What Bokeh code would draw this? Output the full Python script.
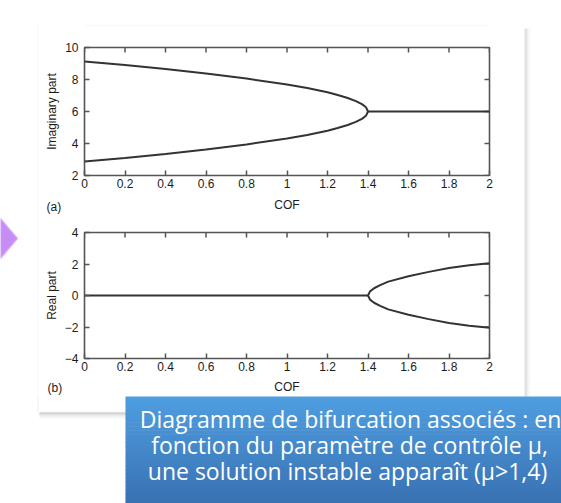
import math
from bokeh.plotting import figure
from bokeh.models import Range1d, FixedTicker, Label
from bokeh.core.properties import value
from bokeh.layouts import column, row
from bokeh.embed import file_html
from bokeh.resources import INLINE

# ---------------- data ----------------
cof_ticks = [0, 0.2, 0.4, 0.6, 0.8, 1.0, 1.2, 1.4, 1.6, 1.8, 2.0]
cof_tick_labels = ["0", "0.2", "0.4", "0.6", "0.8", "1", "1.2", "1.4", "1.6", "1.8", "2"]
imag_ticks = [2, 4, 6, 8, 10]
imag_tick_labels = ["2", "4", "6", "8", "10"]
real_ticks = [-4, -2, 0, 2, 4]
real_tick_labels = ["\u22124", "\u22122", "0", "2", "4"]

# (a) imaginary part
cof_split = [0.0, 0.2, 0.4, 0.6, 0.8, 1.0, 1.1, 1.2, 1.25, 1.3, 1.34, 1.37, 1.39, 1.4]
imag_upper = [9.12, 8.9, 8.65, 8.38, 8.06, 7.69, 7.47, 7.2, 7.03, 6.84, 6.65, 6.46, 6.27, 6.0]
imag_lower = [2.88, 3.1, 3.35, 3.62, 3.94, 4.31, 4.53, 4.8, 4.97, 5.16, 5.35, 5.54, 5.73, 6.0]
cof_merged = [1.4, 2.0]
imag_merged = [6.0, 6.0]

# (b) real part
cof_flat = [0.0, 1.4]
real_flat = [0.0, 0.0]
cof_branch = [1.4, 1.41, 1.43, 1.46, 1.5, 1.6, 1.7, 1.8, 1.9, 2.0]
real_upper = [0.0, 0.26, 0.46, 0.66, 0.88, 1.22, 1.5, 1.74, 1.92, 2.05]
real_lower = [0.0, -0.26, -0.46, -0.66, -0.88, -1.22, -1.5, -1.74, -1.92, -2.05]

caption_lines = ["Diagramme de bifurcation associ\u00e9s : en",
                 "fonction du param\u00e8tre de contr\u00f4le \u00b5,",
                 "une solution instable appara\u00eet  (\u00b5>1,4)"]

# ---------------- layout constants (page pixels) ----------------
FRAME = "#555555"
CURVE = "#333333"
TXT = "#1c1c1c"
FONT = "Liberation Sans"
PW, PH = 561, 503
PL, PR, PT, PB = 37, 524, 25, 412        # white panel edges
MID_L, MID_R = 38, 524                   # horizontal extent of plot canvases
A_Y0, A_Y1 = 26, 220                     # canvas (a)
B_Y0, B_Y1 = 220, 396                    # canvas (b)
FL, FR = 84, 489                         # frame left/right
A_T, A_B = 47, 175
B_T, B_B = 232, 359
BOX_L, BOX_T = 125, 394                  # blue caption box


def px2x(px):
    return (px - FL) * 2.0 / (FR - FL)


def make_py(top, bottom, ylo, yhi):
    def f(py):
        return ylo + (bottom - py) * (yhi - ylo) / (bottom - top)
    return f


pyA = make_py(A_T, A_B, 2, 10)
pyB = make_py(B_T, B_B, -4, 4)


def style_axis(ax, ticks, labels):
    ax.ticker = FixedTicker(ticks=ticks)
    ax.major_label_overrides = dict(zip(ticks, labels))
    ax.axis_line_color = None
    ax.major_tick_line_color = FRAME
    ax.major_tick_line_width = 1.5
    ax.major_tick_in = 5
    ax.major_tick_out = 0
    ax.minor_tick_line_color = None
    ax.major_label_text_font = FONT
    ax.major_label_text_font_size = "12px"
    ax.major_label_text_color = TXT
    ax.axis_label_text_font = FONT
    ax.axis_label_text_font_size = "12px"
    ax.axis_label_text_font_style = "normal"
    ax.axis_label_text_color = TXT


def make_fig(y0, y1, ftop, fbot, ylo, yhi, yticks, ylabels, ylabel, xlab_standoff):
    p = figure(width=MID_R - MID_L, height=y1 - y0,
               x_range=Range1d(0, 2), y_range=Range1d(ylo, yhi),
               output_backend="svg", toolbar_location=None,
               min_border_left=FL - MID_L, min_border_right=MID_R - FR,
               min_border_top=ftop - y0, min_border_bottom=y1 - fbot,
               background_fill_color="white", border_fill_color="white")
    p.outline_line_color = FRAME
    p.outline_line_width = 1.6
    p.grid.visible = False
    style_axis(p.xaxis[0], cof_ticks, cof_tick_labels)
    style_axis(p.yaxis[0], yticks, ylabels)
    p.xaxis[0].axis_label = "COF"
    p.xaxis[0].major_label_standoff = 3
    p.xaxis[0].axis_label_standoff = xlab_standoff
    p.yaxis[0].axis_label = ylabel
    p.yaxis[0].major_label_standoff = 6
    p.yaxis[0].axis_label_standoff = 3
    # inward ticks on the top and right edges (outer half clipped by the frame)
    p.scatter(cof_ticks, [yhi] * len(cof_ticks), marker="dash", angle=math.pi / 2,
              size=10, line_color=FRAME, line_width=1.5)
    p.scatter([2] * len(yticks), yticks, marker="dash", size=10,
              line_color=FRAME, line_width=1.5)
    return p


def deco(x0, y0, x1, y1):
    """A decoration tile whose frame is the whole canvas, in page pixel coordinates."""
    p = figure(width=x1 - x0, height=y1 - y0,
               x_range=Range1d(x0, x1), y_range=Range1d(y1, y0),
               output_backend="svg", toolbar_location=None,
               x_axis_location=None, y_axis_location=None, min_border=0,
               background_fill_color="white", border_fill_color="white")
    p.outline_line_color = None
    p.grid.visible = False
    return p


RSHADE = ["#cbcbcb", "#d7d7d7", "#e2e2e2", "#ebebeb", "#f3f3f3", "#f9f9f9"]
BSHADE = ["#b9b9b9", "#cccccc", "#dbdbdb", "#e7e7e7", "#f0f0f0", "#f8f8f8"]
EDGE = "#eeeeee"


def panel_edges(p):
    # faint left and top edges
    p.segment(x0=[PL + 0.5, PL], y0=[PT, PT + 0.5], x1=[PL + 0.5, PR], y1=[PB, PT + 0.5],
              line_color=EDGE, line_width=1)
    # right shadow
    p.quad(left=[PR + i for i in range(len(RSHADE))], right=[PR + i + 1 for i in range(len(RSHADE))],
           top=[PT + 3] * len(RSHADE), bottom=[PB + i + 1 for i in range(len(RSHADE))],
           fill_color=RSHADE, line_color=None)
    # bottom shadow
    p.quad(left=[PL + 2] * len(BSHADE), right=[PR + 1] * len(BSHADE),
           top=[PB + i for i in range(len(BSHADE))], bottom=[PB + i + 1 for i in range(len(BSHADE))],
           fill_color=BSHADE, line_color=None)


# ---------------- plot (a) ----------------
pa = make_fig(A_Y0, A_Y1, A_T, A_B, 2, 10, imag_ticks, imag_tick_labels, "Imaginary part", 7)
pa.line(cof_split, imag_upper, line_color=CURVE, line_width=2)
pa.line(cof_split, imag_lower, line_color=CURVE, line_width=2)
pa.line(cof_merged, imag_merged, line_color=CURVE, line_width=2)
pa.add_layout(Label(x=px2x(46), y=pyA(206), text="(a)",
                    text_font=FONT, text_font_size="12px", text_color=TXT,
                    text_baseline="middle", text_align="left"), "right")

# ---------------- plot (b) ----------------
pb = make_fig(B_Y0, B_Y1, B_T, B_B, -4, 4, real_ticks, real_tick_labels, "Real part", 6)
pb.line(cof_flat, real_flat, line_color=CURVE, line_width=2)
pb.line(cof_branch, real_upper, line_color=CURVE, line_width=2)
pb.line(cof_branch, real_lower, line_color=CURVE, line_width=2)
pb.add_layout(Label(x=px2x(47), y=pyB(389), text="(b)",
                    text_font=FONT, text_font_size="12px", text_color=TXT,
                    text_baseline="middle", text_align="left"), "right")

# ---------------- decoration tiles ----------------
top_tile = deco(MID_L, 0, MID_R, A_Y0)
panel_edges(top_tile)

left_tile = deco(0, 0, MID_L, B_Y1)
panel_edges(left_tile)
left_tile.patch(x=[0, 17, 0], y=[218, 238, 258], fill_color="#c68df7",
                line_color="#d6adf9", line_width=1.5, line_alpha=0.8)

right_tile = deco(MID_R, 0, PW, B_Y1)
panel_edges(right_tile)

bottom_tile = deco(0, B_Y1, PW, PH)
panel_edges(bottom_tile)

# blue caption box with a vertical gradient
top_rgb = (78, 158, 225)
bot_rgb = (57, 113, 178)
n = 28
lefts, rights, tops, bottoms, colors = [], [], [], [], []
for i in range(n):
    f = i / (n - 1)
    c = tuple(int(round(top_rgb[k] + (bot_rgb[k] - top_rgb[k]) * f)) for k in range(3))
    lefts.append(BOX_L)
    rights.append(PW + 2)
    tops.append(BOX_T + (PH + 2 - BOX_T) * i / n)
    bottoms.append(BOX_T + (PH + 2 - BOX_T) * (i + 1) / n + 0.6)
    colors.append("#%02x%02x%02x" % c)
bottom_tile.quad(left=lefts, right=rights, top=tops, bottom=bottoms,
                 fill_color=colors, line_color=None)

bottom_tile.text(x=[350, 349, 350], y=[418, 444, 470], text=caption_lines,
                 text_font=value("Open Sans"), text_font_size="23px", text_color="white",
                 text_align="center", text_baseline="middle")

layout = column(
    row(left_tile, column(top_tile, pa, pb, spacing=0), right_tile, spacing=0),
    bottom_tile,
    spacing=0,
)
open("out.html", "w").write(file_html(layout, INLINE))
